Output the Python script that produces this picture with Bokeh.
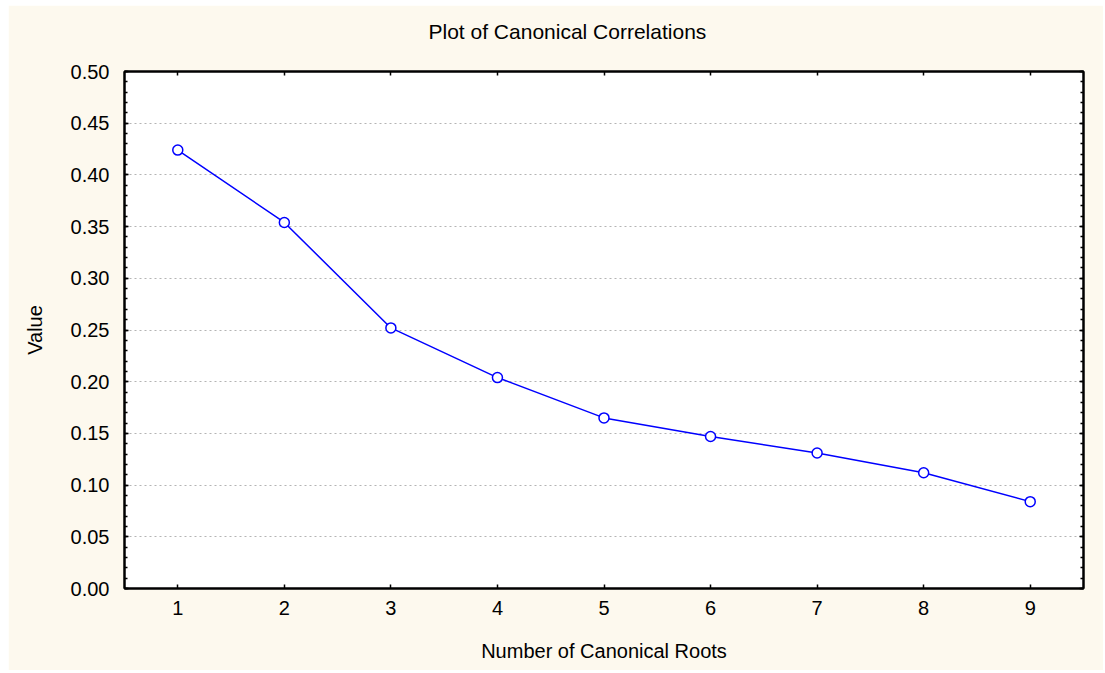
from bokeh.plotting import figure
from bokeh.models import (LinearAxis, Range1d, FixedTicker, NumeralTickFormatter,
                          Title, ColumnDataSource, Spacer)
from bokeh.layouts import row, column
from bokeh.embed import file_html
from bokeh.resources import INLINE

roots = [1, 2, 3, 4, 5, 6, 7, 8, 9]
values = [0.424, 0.354, 0.252, 0.204, 0.165, 0.147, 0.131, 0.112, 0.084]
y_ticks = [0.00, 0.05, 0.10, 0.15, 0.20, 0.25, 0.30, 0.35, 0.40, 0.45, 0.50]
y_minor = [round(i * 0.01, 2) for i in range(0, 51)]

title_text = "Plot of Canonical Correlations"
x_label = "Number of Canonical Roots"
y_label = "Value"

FONT = "Liberation Sans"
BG = "#FDF9EE"

p = figure(width=1095, height=665, output_backend="svg", toolbar_location=None,
           x_range=Range1d(0.5, 9.5), y_range=Range1d(0, 0.5),
           min_border_left=116, min_border_right=20, min_border_top=64,
           min_border_bottom=82)
p.border_fill_color = BG
p.background_fill_color = "white"
p.outline_line_color = "black"
p.outline_line_width = 2

src = ColumnDataSource(dict(x=roots, y=values))
p.line("x", "y", source=src, line_color="#0000FF", line_width=1.5)
p.scatter("x", "y", source=src, size=10, marker="circle", fill_color="white",
          line_color="#0000FF", line_width=1.5)

# grid
p.xgrid.visible = False
p.ygrid.ticker = FixedTicker(ticks=y_ticks[1:-1])
p.ygrid.grid_line_color = "#B4B4B4"
p.ygrid.grid_line_dash = "2 3"
p.ygrid.grid_line_width = 1

def style_axis(ax, labels=True):
    ax.axis_line_color = "black"
    ax.axis_line_width = 2
    ax.major_tick_in = 4
    ax.major_tick_out = 0
    ax.minor_tick_in = 3
    ax.minor_tick_out = 0
    ax.major_tick_line_color = "black"
    ax.minor_tick_line_color = "black"
    ax.major_tick_line_width = 1.5
    ax.minor_tick_line_width = 1.5
    ax.major_label_text_font = FONT
    ax.major_label_text_font_size = "20px"
    ax.major_label_text_color = "black"
    ax.axis_label_text_font = FONT
    ax.axis_label_text_font_size = "20px"
    ax.axis_label_text_font_style = "normal"
    ax.axis_label_text_color = "black"
    if not labels:
        ax.major_label_text_font_size = "0px"
        ax.major_label_text_alpha = 0

xa = p.xaxis[0]
style_axis(xa)
xa.ticker = FixedTicker(ticks=roots)
xa.axis_label = x_label
xa.major_label_standoff = 12
xa.axis_label_standoff = 22

ya = p.yaxis[0]
style_axis(ya)
ya.ticker = FixedTicker(ticks=y_ticks, minor_ticks=y_minor)
ya.formatter = NumeralTickFormatter(format="0.00")
ya.axis_label = y_label
ya.major_label_standoff = 15
ya.axis_label_standoff = 22

top = LinearAxis(ticker=FixedTicker(ticks=roots))
style_axis(top, labels=False)
top.major_label_standoff = 0
p.add_layout(top, "above")

# blank spacer title between the top axis and the real title
gap = Title(text=" ", text_font_size="1px", standoff=10)
p.add_layout(gap, "above")

t = Title(text=title_text, align="left", offset=304, text_font=FONT,
          text_font_size="21px", text_font_style="normal", text_color="black",
          standoff=28, vertical_align="top")
p.add_layout(t, "above")

right = LinearAxis(ticker=FixedTicker(ticks=y_ticks, minor_ticks=y_minor))
style_axis(right, labels=False)
right.major_label_standoff = 0
p.add_layout(right, "right")

layout = row(Spacer(width=8), column(Spacer(height=5), p))
open("out.html", "w").write(file_html(layout, INLINE))
